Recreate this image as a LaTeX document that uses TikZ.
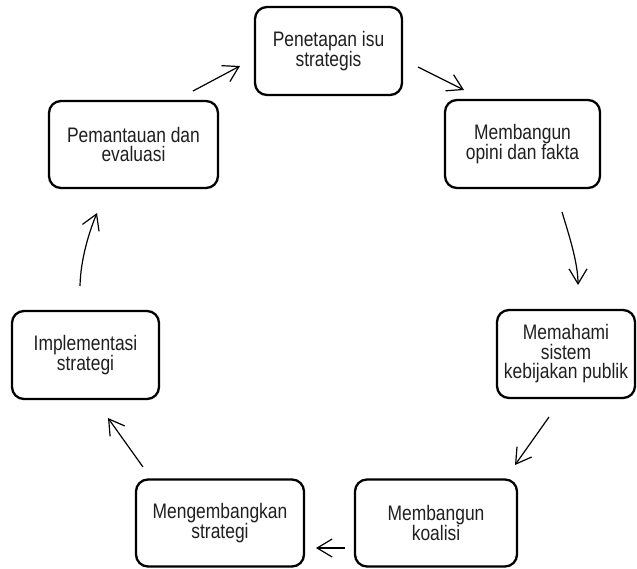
\documentclass[tikz,border=0pt]{standalone}
\usepackage{fontspec}
\setmainfont[FakeStretch=0.83]{Liberation Sans}
\usetikzlibrary{arrows.meta}
\tikzset{
  stagebox/.style={draw=black, line width=2.3pt, rounded corners=12pt, inner sep=0pt,
    align=center, text=black!88,
    font={\fontsize{21}{19.5}\selectfont\lineskiplimit=-30pt}},
  flow/.style={line width=1.2pt, -{Straight Barb[length=15pt,width=18pt,line width=1.2pt]}}
}
\begin{document}
\begin{tikzpicture}[x=1pt,y=-1pt]
\useasboundingbox (0,0) rectangle (637,568);
% boxes
\node[stagebox, minimum width=147pt, minimum height=88pt] (n1) at (328.5,51) {Penetapan isu\\strategis};
\node[stagebox, minimum width=155pt, minimum height=88pt] (n2) at (522.5,144) {Membangun\\opini dan fakta};
\node[stagebox, minimum width=138pt, minimum height=88pt] (n3) at (566,354) {Memahami\\sistem\\kebijakan publik};
\node[stagebox, minimum width=162pt, minimum height=87pt] (n4) at (436,523) {Membangun\\koalisi};
\node[stagebox, minimum width=168pt, minimum height=87pt] (n5) at (220,523) {Mengembangkan\\strategi};
\node[stagebox, minimum width=147pt, minimum height=88pt] (n6) at (85.5,355) {Implementasi\\strategi};
\node[stagebox, minimum width=169pt, minimum height=87pt] (n7) at (133.5,144.5) {Pemantauan dan\\evaluasi};
% arrow end points
\coordinate (a71) at (193,91);  \coordinate (b71) at (240,66);
\coordinate (a12) at (418,67);  \coordinate (b12) at (464,90);
\coordinate (a23) at (562,212); \coordinate (b23) at (578,285);
\coordinate (a34) at (549,417); \coordinate (b34) at (515,465);
\coordinate (a45) at (345,548); \coordinate (b45) at (316,548);
\coordinate (a56) at (143,467); \coordinate (b56) at (108,418);
\coordinate (a67) at (80,286);  \coordinate (b67) at (97,213);
% arrows
\draw[flow] (a71) -- (b71);
\draw[flow] (a12) -- (b12);
\draw[flow] (a23) .. controls (568,232) and (578,262) .. (b23);
\draw[flow] (a34) -- (b34);
\draw[flow] (a45) -- (b45);
\draw[flow] (a56) -- (b56);
\draw[flow] (a67) .. controls (80.5,260) and (89,232) .. (b67);
\end{tikzpicture}
\end{document}
